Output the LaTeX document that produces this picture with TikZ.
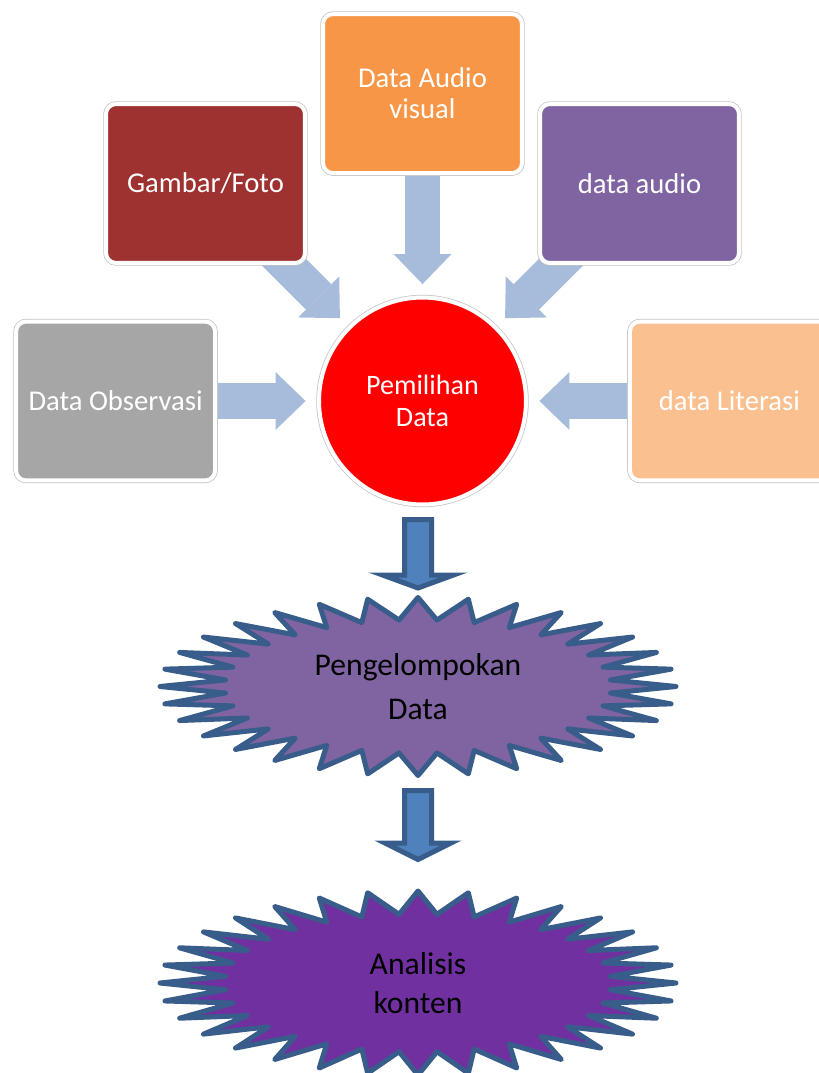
\documentclass[tikz,border=0pt]{standalone}
\usepackage{fontspec}
\setmainfont{Carlito}
\usetikzlibrary{positioning,arrows.meta,backgrounds}
\definecolor{fotored}{RGB}{158,50,48}
\definecolor{avorange}{RGB}{247,150,70}
\definecolor{audiopurple}{RGB}{128,100,162}
\definecolor{obsgrey}{RGB}{166,166,166}
\definecolor{litpeach}{RGB}{250,192,144}
\definecolor{boxedge}{RGB}{195,195,195}
\definecolor{feedblue}{RGB}{167,187,219}
\definecolor{downfill}{RGB}{79,129,189}
\definecolor{downline}{RGB}{56,93,138}
\definecolor{groupfill}{RGB}{128,100,162}
\definecolor{analysisfill}{RGB}{112,48,160}
\tikzset{box node/.style={rectangle,rounded corners=0.2cm,minimum width=3.98cm,minimum height=3.18cm,inner sep=0pt,
            draw=white,line width=0.08cm,preaction={draw=boxedge,line width=0.11cm},
            text=white,align=center,font=\fontsize{16.3}{17.6}\selectfont},
         hub node/.style={circle,fill=red,minimum size=4.14cm,inner sep=0pt,draw=white,line width=0.08cm,
            preaction={draw=boxedge,line width=0.11cm},text=white,align=center,font=\fontsize{16}{18.2}\selectfont},
         feed/.style={draw=feedblue,line width=0.72cm,-{Triangle[width=1.16cm,length=0.6cm,line width=0pt]},shorten >=0.23cm},
         down arrow/.style={fill=downfill,draw=downline,line width=0.1cm,line join=miter},
         burst/.style={draw=downline,line width=0.1cm,line join=round},
         burst text/.style={align=center,text=black}
            }
\begin{document}
\begin{tikzpicture}[x=0.02cm,y=-0.02cm]
    \useasboundingbox (0,0) rectangle (819,1073);
    \node[hub node] (pilih) at (422.5,401) {Pemilihan\\Data};
    \node[box node,fill=avorange] (avisual) [above = 2.41cm of pilih] {Data Audio\\visual};
    \node[box node,fill=obsgrey] (obs) [left = 2cm of pilih] {Data Observasi};
    \node[box node,fill=litpeach] (lit) [right = 2cm of pilih] {data Literasi};
    \node[box node,fill=fotored] (foto) at (205.5,183.5) {Gambar/Foto};
    \node[box node,fill=audiopurple] (audio) at (639.5,183.5) {data audio};

    \node[burst text,font=\fontsize{18}{25}\selectfont] (grup) at (418,686.5) {Pengelompokan\\Data};
    \node[burst text,font=\fontsize{18}{22.4}\selectfont] (analisis) at (418,983) {Analisis\\konten};

    % block arrows down the middle
    \coordinate (turun1) at (418,519.5);
    \coordinate (turun2) at (418,790.5);
    \draw[down arrow] (turun1) ++(-13.5,0) -- ++(27,0) -- ++(0,55.5) -- ++(22,0) -- ++(-35.5,13)
        -- ++(-35.5,-13) -- ++(22,0) -- cycle;
    \draw[down arrow] (turun2) ++(-13.5,0) -- ++(27,0) -- ++(0,52.5) -- ++(19.5,0) -- ++(-33,16.5)
        -- ++(-33,-16.5) -- ++(19.5,0) -- cycle;

    \begin{scope}[on background layer]
    \foreach \src in {foto,avisual,audio,obs,lit}
        \draw[feed] (\src.center) -- (pilih);
    \draw[burst,fill=groupfill,shift={(grup.center)}] (0:258 and 89)
        \foreach \k in {1,...,32} {-- ({\k*11.25-5.625}:193.5 and 66.75) -- ({\k*11.25}:258 and 89)} -- cycle;
    \draw[burst,fill=analysisfill,shift={(analisis.center)}] (0:258 and 92)
        \foreach \k in {1,...,32} {-- ({\k*11.25-5.625}:193.5 and 69) -- ({\k*11.25}:258 and 92)} -- cycle;
    \end{scope}
\end{tikzpicture}
\end{document}
